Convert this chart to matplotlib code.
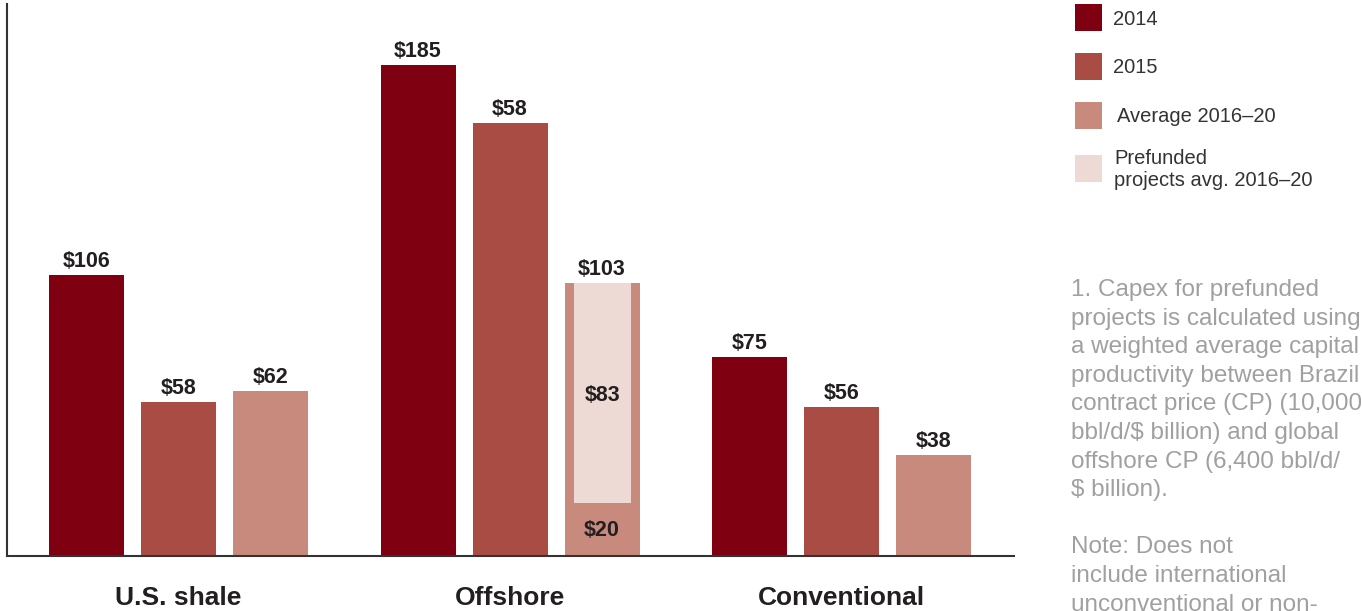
import matplotlib
matplotlib.use("Agg")
import matplotlib.pyplot as plt
from matplotlib.patches import Rectangle
from matplotlib.transforms import blended_transform_factory
import numpy as np

plt.rcParams['font.family'] = ['Liberation Sans', 'DejaVu Sans']

categories = ["U.S. shale", "Offshore", "Conventional"]
values_2014 = [106, 185, 75]
values_2015 = [58, 163, 56]
values_avg = [62, 103, 38]
labels_2014 = ["$106", "$185", "$75"]
labels_2015 = ["$58", "$58", "$56"]
labels_avg = ["$62", "$103", "$38"]
# Offshore average split: non-prefunded base + prefunded part
offshore_base = 20
offshore_prefunded = 83
legend_names = [["2014"], ["2015"], ["Average 2016\u201320"], ["Prefunded", "projects avg. 2016\u201320"]]
footnote_lines = ["1. Capex for prefunded", "projects is calculated using", "a weighted average capital",
                  "productivity between Brazil", "contract price (CP) (10,000", "bbl/d/$ billion) and global",
                  "offshore CP (6,400 bbl/d/", "$ billion).", "", "Note: Does not", "include international",
                  "unconventional or non-"]

colors = ["#7f0011", "#a84c44", "#c98a7e", "#eedad5"]
text_col = "#231f20"

W, H = 1362, 611
fig = plt.figure(figsize=(W / 100, H / 100), dpi=100)
ax = fig.add_axes([7 / W, (H - 556) / H, (1014 - 7) / W, 552 / H])

gap = 3.603
centers = np.arange(len(categories)) * gap
width = 75 / 92
all_vals = [values_2014, values_2015, values_avg]
all_labels = [labels_2014, labels_2015, labels_avg]
for s in range(3):
    xs = centers + (s - 1)
    ax.bar(xs, all_vals[s], width=width, color=colors[s], linewidth=0, zorder=2)
    for i, (x, v) in enumerate(zip(xs, all_vals[s])):
        ax.annotate(all_labels[s][i], (x, v), xytext=(0, 5.8), textcoords="offset points",
                    ha="center", va="baseline", fontsize=15.5, fontweight="bold", color=text_col)

# prefunded inset in offshore average bar
xo = centers[1] + 1
inset_w = 57 / 92
ax.bar([xo], [offshore_prefunded], bottom=[offshore_base], width=inset_w,
       color=colors[3], linewidth=0, zorder=3)
ax.annotate("$83", (xo, offshore_base + offshore_prefunded / 2), xytext=(0, -2), textcoords="offset points",
            ha="center", va="center", fontsize=15.5, fontweight="bold", color=text_col, zorder=4)
ax.annotate("$20", (xo, offshore_base / 2), xytext=(0, -1), textcoords="offset points",
            ha="center", va="center", fontsize=15.5, fontweight="bold", color=text_col, zorder=4)

ax.set_xlim(-1.864, 9.08)
ax.set_ylim(0, 208)
ax.set_xticks([])
ax.set_yticks([])
trans = blended_transform_factory(ax.transData, fig.transFigure)
for c, name in zip(centers, categories):
    ax.text(c, 1 - 605 / H, name, transform=trans, ha="center", va="baseline",
            fontsize=19, fontweight="bold", color=text_col, clip_on=False)
for sp in ["top", "right"]:
    ax.spines[sp].set_visible(False)
for sp in ["left", "bottom"]:
    ax.spines[sp].set_color("#333333")
    ax.spines[sp].set_linewidth(1.5)

# legend drawn manually (pixel coordinates)
def px(x, y):
    return x / W, 1 - y / H

sq_tops = [4, 53, 102, 155]
text_x = [1113, 1113, 1117, 1114]
text_base = [25, 73, 122, 164]
for i, lines in enumerate(legend_names):
    x0, y0 = px(1075, sq_tops[i] + 27)
    fig.add_artist(Rectangle((x0, y0), 27 / W, 27 / H, transform=fig.transFigure,
                             color=colors[i], linewidth=0))
    for j, line in enumerate(lines):
        tx, ty = px(text_x[i], text_base[i] + 22 * j)
        fig.text(tx, ty, line, ha="left", va="baseline", fontsize=14.5, color="#333333")

for k, line in enumerate(footnote_lines):
    if not line:
        continue
    fx, fy = px(1071, 296 + 28.6 * k)
    fig.text(fx, fy, line, ha="left", va="baseline", fontsize=17.5, color="#a0a0a0")

fig.savefig("out.png", dpi=100)
